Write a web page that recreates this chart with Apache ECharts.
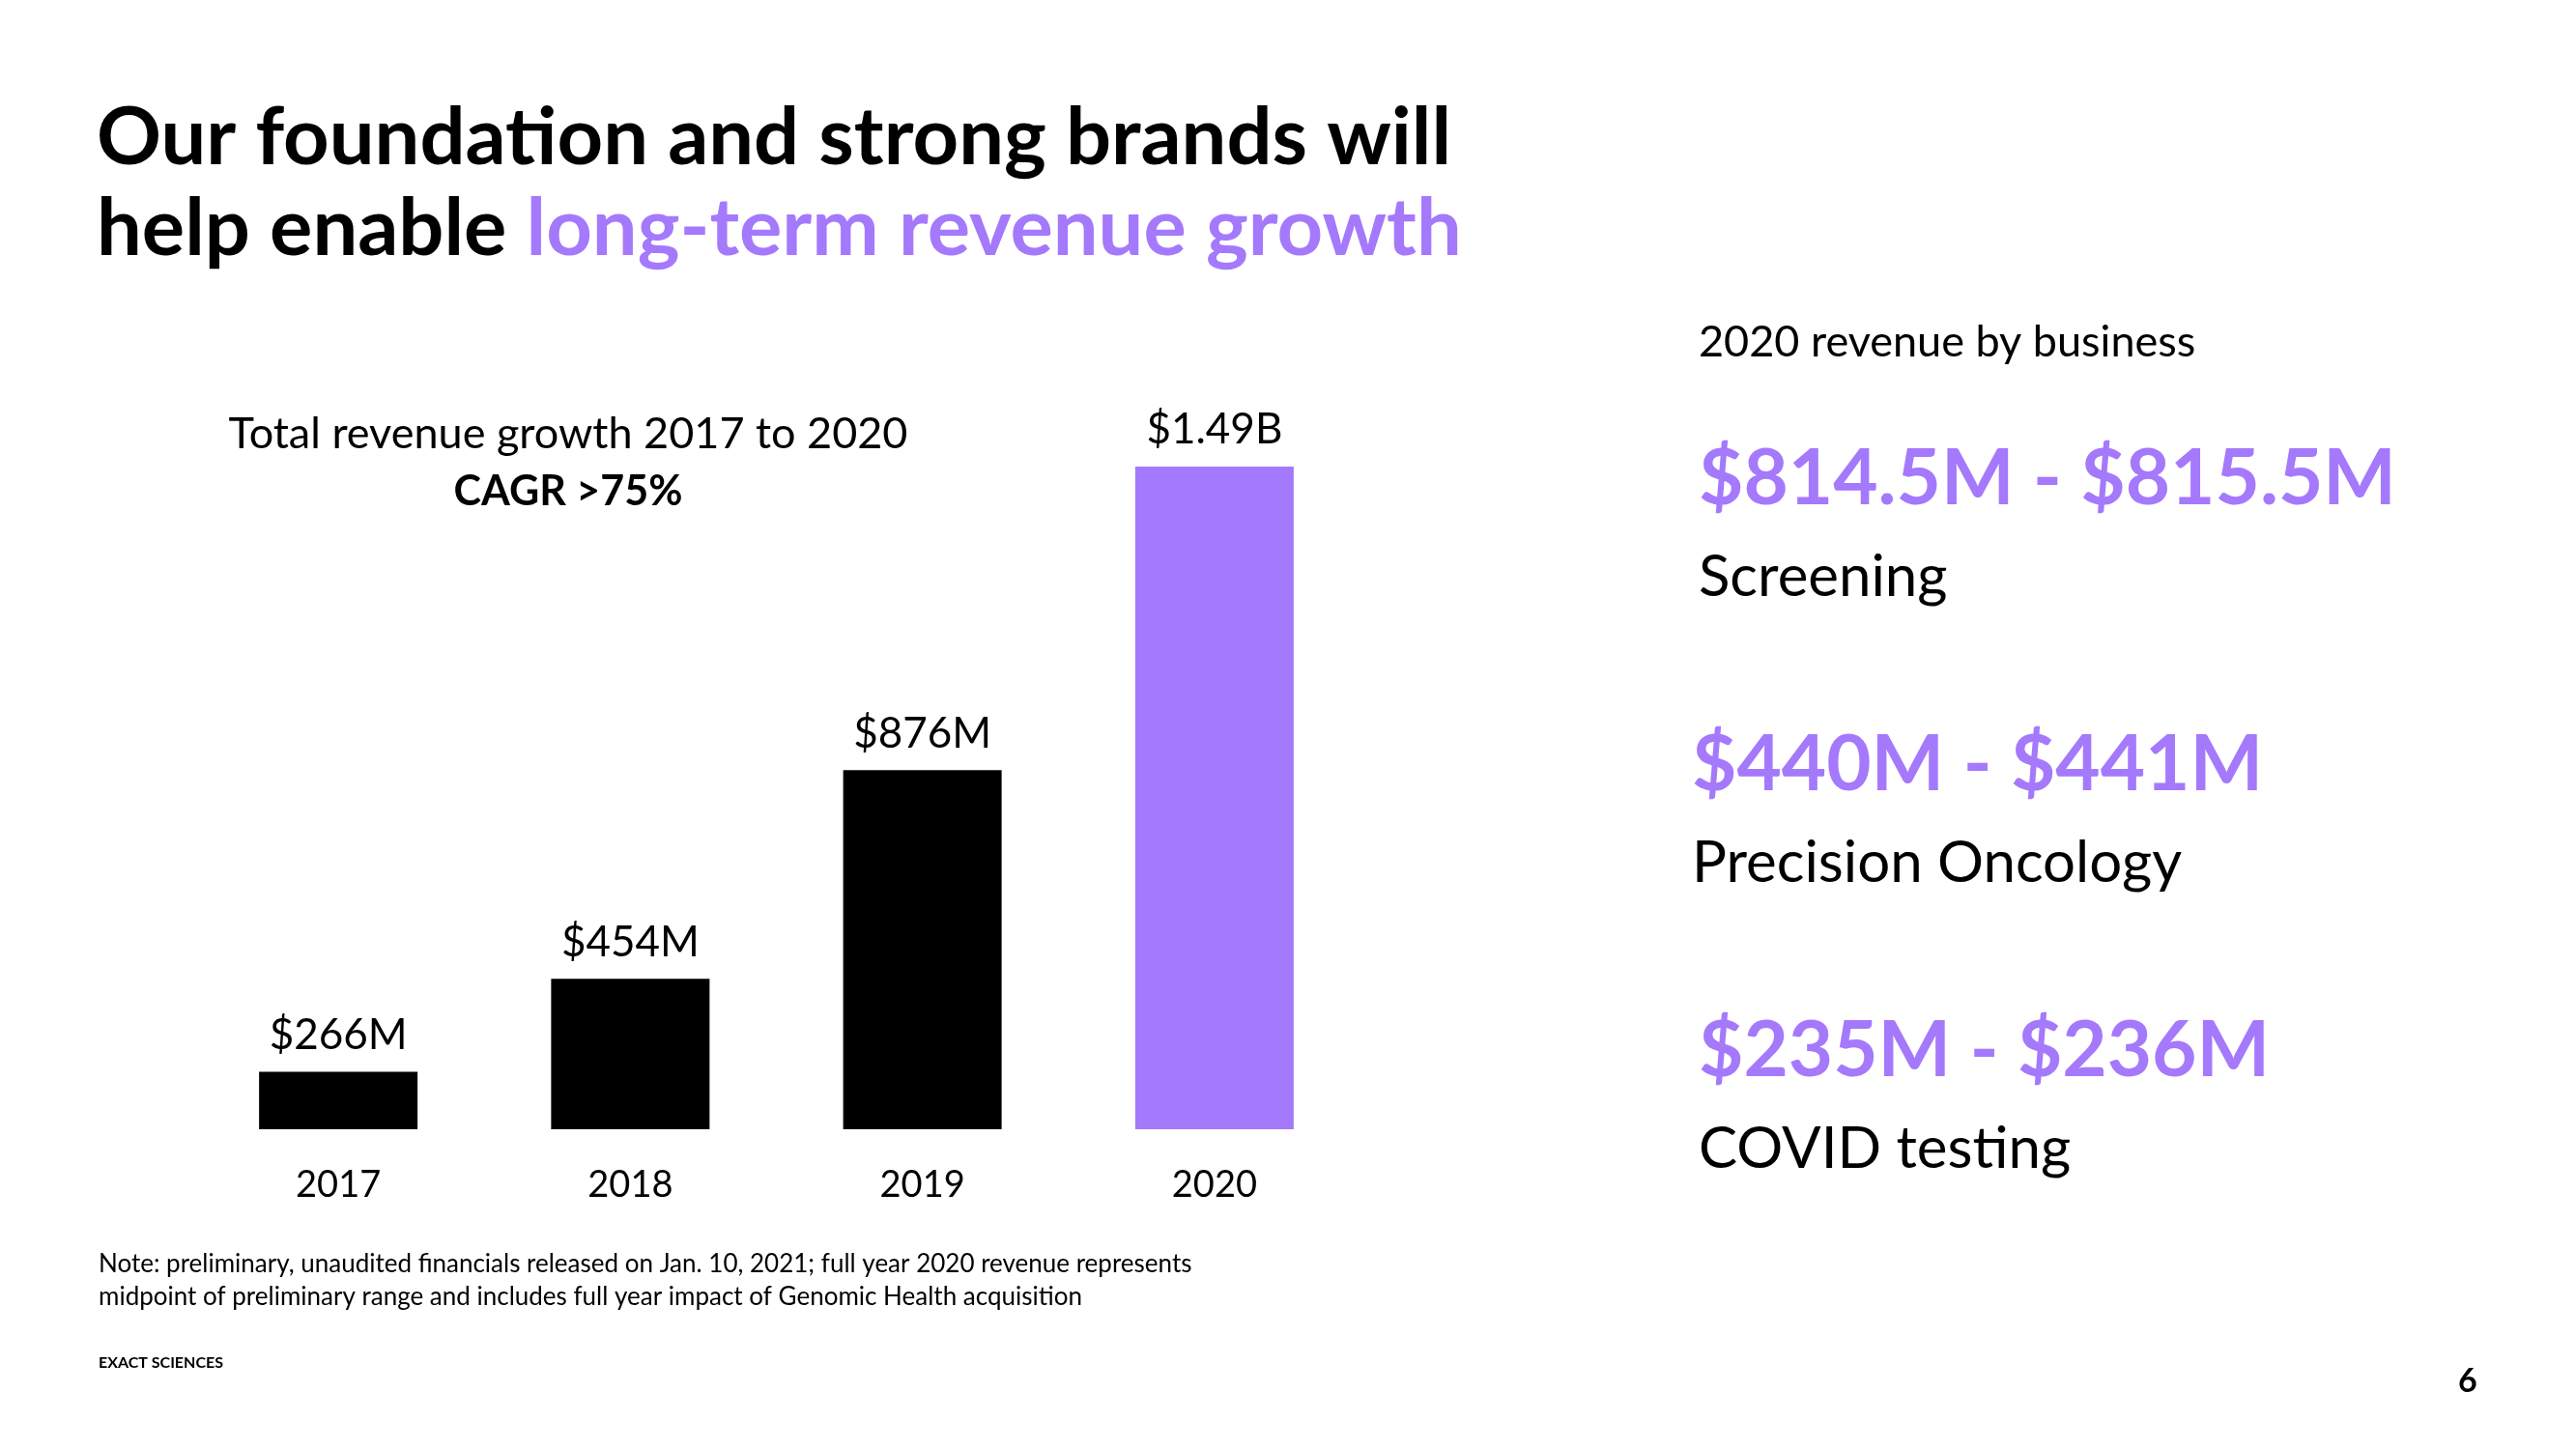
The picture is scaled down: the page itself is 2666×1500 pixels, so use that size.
<!DOCTYPE html>
<html>
<head>
<meta charset="utf-8">
<script src="https://cdn.jsdelivr.net/npm/echarts@6/dist/echarts.min.js"></script>
<style>
html,body{margin:0;padding:0;background:#fff;}
#chart{width:2666px;height:1500px;}
</style>
</head>
<body>
<div id="chart"></div>
<script>
// ---- data ----
const years = ['2017', '2018', '2019', '2020'];
const revenue = [266, 454, 876, 1490];           // $M
const revenueLabels = ['$266M', '$454M', '$876M', '$1.49B'];
const businesses = ['Screening', 'Precision Oncology', 'COVID testing'];
const businessLow = ['$814.5M', '$440M', '$235M'];
const businessHigh = ['$815.5M', '$441M', '$236M'];

const PURPLE = '#A479FC';
const FONT = 'Lato, "Open Sans", sans-serif';

const chart = echarts.init(document.getElementById('chart'));

const barData = revenue.map((v, i) => ({
  value: v,
  itemStyle: { color: i === revenue.length - 1 ? PURPLE : '#000000' },
  label: { formatter: revenueLabels[i] }
}));

function txt(x, y, text, font, fill, align) {
  return {
    type: 'text', x: x, y: y, z: 10,
    style: { text: text, font: font, fill: fill || '#000',
      align: align || 'left', verticalAlign: 'middle',
      textAlign: align || 'left', textVerticalAlign: 'middle' }
  };
}

const bizX = [1758, 1751, 1758];
const bizValY = [496, 792, 1088];
const bizNameY = [598, 894, 1190];
const bizGraphics = [];
businesses.forEach((b, i) => {
  bizGraphics.push(txt(bizX[i], bizValY[i], businessLow[i] + ' - ' + businessHigh[i], 'bold 80px ' + FONT, PURPLE));
  bizGraphics.push(txt(bizX[i], bizNameY[i], b, '60px ' + FONT, '#000'));
});

chart.setOption({
  backgroundColor: '#ffffff',
  animation: false,
  grid: { left: 199, right: 2666 - 1408, top: 483, bottom: 1500 - 1169 },
  xAxis: {
    type: 'category',
    data: years,
    axisLine: { show: false },
    axisTick: { show: false },
    axisLabel: { color: '#000', fontFamily: FONT, fontSize: 38, margin: 39 }
  },
  yAxis: {
    type: 'value', min: 150, max: 1490,
    show: false, splitLine: { show: false }
  },
  series: [{
    type: 'bar',
    data: barData,
    barWidth: 164,
    label: { show: true, position: 'top', distance: 16, color: '#000', fontFamily: FONT, fontSize: 44 }
  }],
  graphic: [
    txt(100, 143, 'Our foundation and strong brands will', 'bold 83px ' + FONT, '#000'),
    {
      type: 'text', x: 100, y: 237, z: 10,
      style: { text: '{a|help enable }{b|long-term revenue growth}',
        verticalAlign: 'middle', textVerticalAlign: 'middle',
        rich: {
          a: { font: 'bold 83px ' + FONT, fill: '#000', color: '#000' },
          b: { font: 'bold 83px ' + FONT, fill: PURPLE, color: PURPLE }
        } }
    },
    txt(588, 449, 'Total revenue growth 2017 to 2020', '45px ' + FONT, '#000', 'center'),
    txt(588, 509, 'CAGR >75%', 'bold 43px ' + FONT, '#000', 'center'),
    txt(1758, 354, '2020 revenue by business', '45px ' + FONT, '#000'),
    ...bizGraphics,
    txt(102, 1309, 'Note: preliminary, unaudited financials released on Jan. 10, 2021; full year 2020 revenue represents', '26px ' + FONT, '#000'),
    txt(102, 1343, 'midpoint of preliminary range and includes full year impact of Genomic Health acquisition', '26px ' + FONT, '#000'),
    txt(102, 1411, 'EXACT SCIENCES', 'bold 16px ' + FONT, '#000'),
    txt(2544, 1430, '6', 'bold 34px ' + FONT, '#000')
  ]
});
</script>
</body>
</html>
